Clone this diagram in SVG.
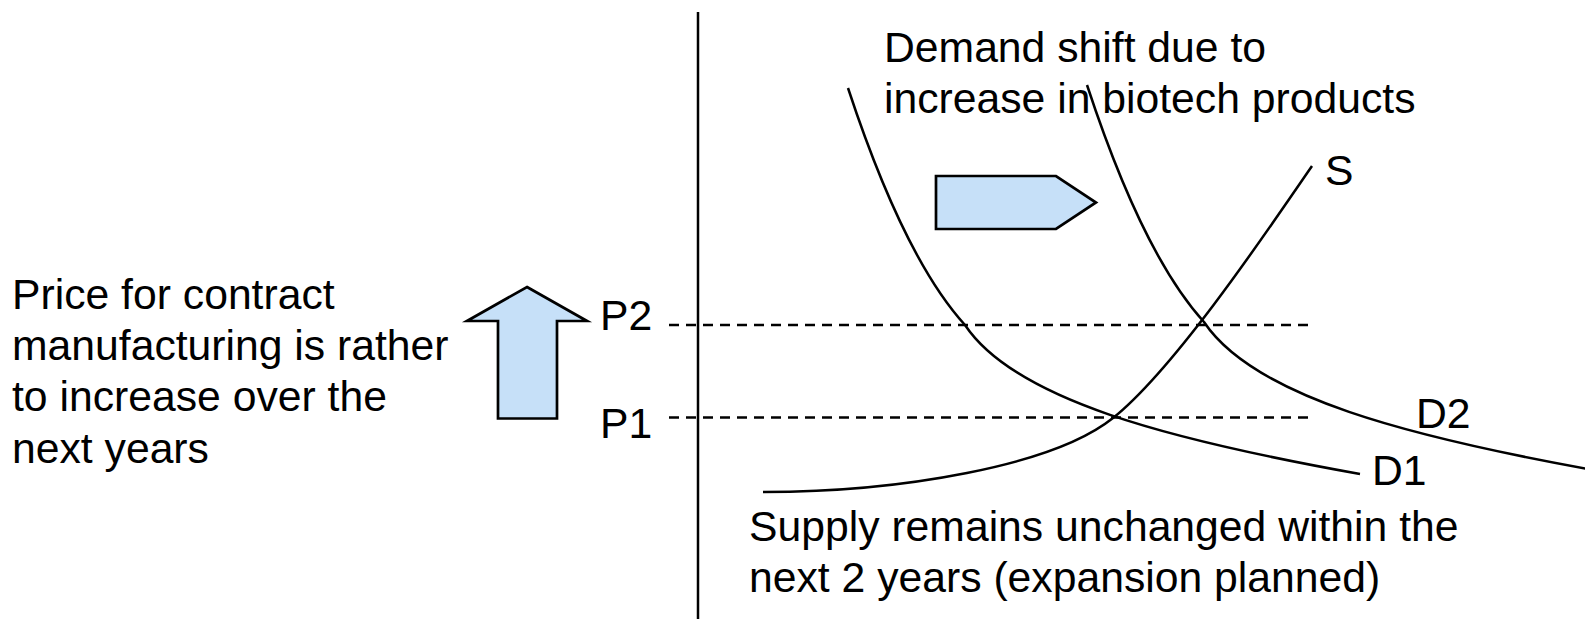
<svg xmlns="http://www.w3.org/2000/svg" width="1585" height="619" viewBox="0 0 1585 619">
<style>
text{font-family:"Liberation Sans",Arial,sans-serif;font-size:42.7px;fill:#000}
.curve{fill:none;stroke:#000;stroke-width:2.5}
.dash{fill:none;stroke:#000;stroke-width:2.5;stroke-dasharray:10 7}
.arrow{fill:#c6e0f8;stroke:#000;stroke-width:2.7;stroke-linejoin:miter}
</style>
<rect width="1585" height="619" fill="#fff"/>
<g id="connectors">
<line class="curve" x1="698" y1="12" x2="698" y2="619"/>
<line class="dash" x1="669" y1="325" x2="1313" y2="325"/>
<line class="dash" x1="669" y1="417.5" x2="1313" y2="417.5"/>
<path id="d1curve" class="curve" d="M848,88 C876,173 915,270 965,325 C1015,400 1170,440 1360,474"/>
<path id="d2curve" class="curve" d="M848,88 C876,173 915,270 965,325 C1015,400 1170,440 1360,474" transform="translate(239,-3)"/>
<path id="scurve" class="curve" d="M763,492 C900,492 1053,466 1113,418 C1173,370 1262,239 1312,166"/>
</g>
<g id="up-arrow"><polygon class="arrow" points="527,287 587,321 557,321 557,418.5 498,418.5 498,321 467,321"/></g>
<g id="right-arrow"><polygon class="arrow" points="936,176 1056,176 1096,202.5 1056,229 936,229"/></g>
<g id="price-label">
<text x="12" y="308.5">Price for contract</text>
<text x="12" y="360">manufacturing is rather</text>
<text x="12" y="411.3">to increase over the</text>
<text x="12" y="462.6">next years</text>
</g>
<g id="demand-label">
<text x="884" y="62">Demand shift due to</text>
<text x="884" y="113.3">increase in biotech products</text>
</g>
<g id="supply-label">
<text x="749" y="541">Supply remains unchanged within the</text>
<text x="749" y="592">next 2 years (expansion planned)</text>
</g>
<g id="p2"><text x="600" y="330">P2</text></g>
<g id="p1"><text x="600" y="438">P1</text></g>
<g id="s-label"><text x="1325" y="185">S</text></g>
<g id="d1-label"><text x="1372" y="485">D1</text></g>
<g id="d2-label"><text x="1416" y="428">D2</text></g>
</svg>
